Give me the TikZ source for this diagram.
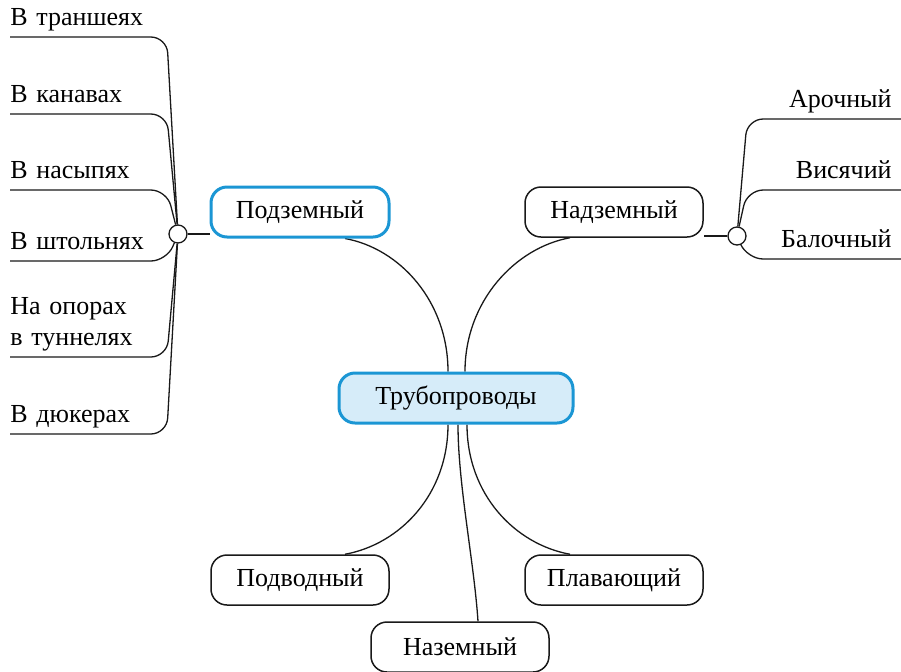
\documentclass[tikz,border=0pt]{standalone}
\usepackage{fontspec}
\setmainfont{Liberation Serif}
\usepackage{xcolor}
\definecolor{colorMain}{RGB}{27,150,212}
\definecolor{colorMainFill}{RGB}{214,236,249}
\colorlet{colorLine}{black!90}
\usepackage{tikz}
\usetikzlibrary{backgrounds}
\tikzset{twig/.style={branch, rounded corners=8pt}}

\begin{document}
\begin{tikzpicture}[x=0.5pt, y=-0.5pt, font=\fontsize{13}{15.5}\selectfont,
  box/.style={draw=colorLine, line width=0.75pt, rounded corners=8pt, fill=white, minimum width=89pt, minimum height=25pt, inner sep=0pt},
  mainbox/.style={box, draw=colorMain, line width=1.5pt},
  joint/.style={circle, draw=colorLine, line width=0.65pt, fill=white, minimum size=9pt, inner sep=0pt},
  leafL/.style={anchor=south west, inner xsep=0pt, inner ysep=0pt, text width=78pt, align=left, text depth=5.5pt},
  leafR/.style={anchor=south east, inner xsep=4.5pt, inner ysep=0pt, text width=67.5pt, align=right, text depth=5.5pt},
  branch/.style={draw=colorLine, line width=0.65pt}]
\useasboundingbox (0,0) rectangle (901,671);
\node[mainbox, fill=colorMainFill, minimum width=117pt] (tp) at (456,398) {Трубопроводы};
\node[mainbox] (pz) at (300,212) {Подземный};
\node[box] (nz) at (614,212) {Надземный};
\node[box] (pv) at (300,580) {Подводный};
\node[box] (pl) at (614,580) {Плавающий};
\node[box] (naz) at (460,647) {Наземный};
\node[joint] (lc) at (178,234) {};
\node[joint] (rc) at (737,236) {};
\node[leafL] (l1) at (10,37) {В траншеях};
\node[leafL] (l2) at (10,114) {В канавах};
\node[leafL] (l3) at (10,190) {В насыпях};
\node[leafL] (l4) at (10,261) {В штольнях};
\node[leafL, text depth=21pt] (l5) at (10,357) {На опорах\\в туннелях};
\node[leafL] (l6) at (10,434) {В дюкерах};
\node[leafR] (r1) at (901,119) {Арочный};
\node[leafR] (r2) at (901,190) {Висячий};
\node[leafR] (r3) at (901,259) {Балочный};
\begin{scope}[on background layer]
\foreach \l in {l1,l2,l3,l4,l5,l6}
  \draw[twig] (\l.south west) -- (\l.south east) -- (lc);
\foreach \r in {r1,r2,r3}
  \draw[twig] (\r.south east) -- (\r.south west) -- (rc);
\draw[branch] (lc) -- (lc -| pz.west);
\draw[branch] (rc) -- (rc -| nz.east);
\draw[branch] ([xshift=22.5pt]pz.south) .. controls +(55,10) and +(0,-70) .. ([xshift=-4pt]tp.north);
\draw[branch] ([xshift=-22pt]nz.south) .. controls +(-55,10) and +(0,-70) .. ([xshift=4.5pt]tp.north);
\draw[branch] ([xshift=22.5pt]pv.north) .. controls +(55,-10) and +(0,70) .. ([xshift=-4pt]tp.south);
\draw[branch] ([xshift=-22pt]pl.north) .. controls +(-55,-10) and +(0,70) .. ([xshift=5.5pt]tp.south);
\draw[branch] ([xshift=1pt]tp.south) .. controls +(0,60) and +(-4,-60) .. ([xshift=9pt]naz.north);
\end{scope}
\end{tikzpicture}
\end{document}
